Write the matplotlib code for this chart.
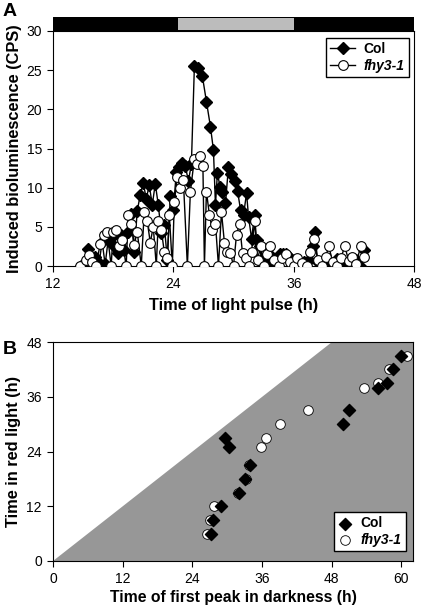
import matplotlib
matplotlib.use("Agg")
import matplotlib.pyplot as plt
from matplotlib.patches import Rectangle, Polygon

plt.rcParams['font.family'] = ['Liberation Sans', 'DejaVu Sans']

# ---------------- Panel A data ----------------
col_t = [14.8, 15.5, 15.8, 16.2, 16.6, 16.9, 17.2, 17.5, 17.8, 18.1, 18.5, 18.8, 19.1, 19.5,
         19.8, 20.1, 20.4, 20.7, 21.0, 21.3, 21.6, 21.9, 22.2, 22.5, 22.8, 23.1, 23.4, 23.7,
         24.0, 24.3, 24.6, 24.9, 25.2, 25.5, 25.8, 26.1, 26.5, 26.9, 27.3, 27.7, 28.0, 28.2,
         28.4, 28.65, 28.9, 29.2, 29.5, 29.8, 30.1, 30.4, 30.7, 31.0, 31.3, 31.5, 31.8, 32.1,
         32.3, 32.6, 32.9, 33.2, 33.5, 33.8, 34.2, 34.6, 34.9, 35.2, 35.5, 35.8, 36.2, 36.6,
         37.0, 37.5, 37.9, 38.1, 38.4, 38.8, 39.3, 39.8, 40.3, 40.8, 41.2, 41.7, 42.2, 42.6, 43.0]
col_v = [0.0, 2.2, 1.0, 1.2, 0.4, 3.1, 0.2, 3.3, 3.6, 2.6, 1.6, 4.0, 2.0, 4.3,
         6.6, 1.8, 7.0, 9.1, 10.6, 8.6, 10.3, 7.8, 10.5, 7.8, 4.2, 5.2, 0.8, 8.9,
         7.2, 12.0, 12.6, 13.1, 12.8, 10.8, 13.0, 25.5, 25.3, 24.2, 21.0, 17.8, 14.8, 7.8,
         11.9, 10.1, 9.4, 8.0, 12.7, 11.8, 10.8, 9.6, 7.2, 6.5, 9.3, 6.3, 3.5, 6.5,
         3.3, 2.5, 0.0, 1.4, 0.6, 1.2, 0.4, 1.5, 1.5, 1.5, 1.2, 0.8, 0.3, 0.0,
         0.5, 0.8, 2.6, 4.4, 0.5, 0.0, 0.6, 0.0, 0.9, 0.5, 0.0, 0.6, 0.8, 0.0, 2.0]

fhy_t = [14.7, 15.3, 15.6, 15.9, 16.3, 16.7, 17.1, 17.4, 17.8, 18.0, 18.3, 18.6, 18.9, 19.3,
         19.5, 19.8, 20.1, 20.4, 20.8, 21.1, 21.4, 21.7, 22.0, 22.3, 22.5, 22.8, 23.1, 23.4,
         23.6, 23.9, 24.1, 24.4, 24.7, 25.0, 25.4, 25.7, 26.1, 26.4, 26.7, 26.95, 27.1, 27.3,
         27.6, 27.9, 28.2, 28.5, 28.8, 29.1, 29.4, 29.7, 30.0, 30.3, 30.6, 30.9, 31.2, 31.5,
         31.8, 32.1, 32.4, 32.7, 33.0, 33.3, 33.6, 34.0, 34.5, 34.8, 35.2, 35.6, 36.0, 36.3,
         36.8, 37.3, 37.6, 38.0, 38.4, 38.8, 39.2, 39.5, 39.9, 40.3, 40.7, 41.1, 41.5, 41.8,
         42.2, 42.7, 43.0]
fhy_v = [0.0, 0.8, 1.4, 0.5, 0.0, 2.8, 3.9, 4.3, 0.0, 4.4, 4.6, 2.5, 3.3, 0.0,
         6.5, 5.4, 2.7, 4.4, 0.0, 6.9, 5.7, 3.0, 5.0, 0.0, 5.7, 4.6, 1.8, 1.0,
         6.5, 0.0, 8.2, 11.3, 10.0, 11.0, 0.0, 9.5, 13.7, 13.0, 14.0, 12.8, 0.0, 9.5,
         6.5, 4.6, 5.4, 0.0, 6.9, 2.9, 1.8, 1.6, 0.0, 4.0, 5.4, 1.6, 1.0, 0.0,
         1.8, 5.7, 0.8, 2.5, 0.0, 1.5, 2.5, 0.8, 0.0, 1.0, 1.5, 0.5, 0.0, 1.0,
         0.4, 0.0, 1.8, 3.5, 0.8, 0.0, 1.2, 2.5, 0.5, 0.0, 1.0, 2.5, 0.6, 1.2,
         0.3, 2.5, 1.2]

# light regime bar (h)
bar_start, bar_end = 12, 48
light_start, light_end = 24.5, 36

# ---------------- Panel B data ----------------
col_peak = [60.0, 58.5, 57.5, 56.0, 51.0, 50.0, 29.7, 30.3, 34.0, 33.0, 32.0, 29.0, 27.6, 27.2]
col_red = [45, 42, 39, 38, 33, 30, 27, 25, 21, 18, 15, 12, 9, 6]
fhy_peak = [61.0, 57.9, 56.0, 53.5, 44.0, 39.1, 36.6, 35.8, 33.7, 33.2, 31.9, 27.8, 27.0, 26.5]
fhy_red = [45, 42, 39, 38, 33, 30, 27, 25, 21, 18, 15, 12, 9, 6]

W, H = 423, 606
fig = plt.figure(figsize=(W / 100, H / 100), dpi=100)


def ax_px(l, t, r, b):
    return fig.add_axes([l / W, 1 - b / H, (r - l) / W, (b - t) / H])


tick_fs = 10
lab_fs = 11.8

# ---- Panel A ----
axA = ax_px(53, 31, 414, 266)
axA.plot(col_t, col_v, color='black', lw=1, marker='D', ms=6.5, mfc='black', mec='black',
         label='Col', zorder=2)
axA.plot(fhy_t, fhy_v, color='black', lw=1, marker='o', ms=7, mfc='white', mec='black',
         mew=0.8, label='fhy3-1', zorder=3)
axA.set_xlim(12, 48)
axA.set_ylim(0, 30)
axA.set_xticks([12, 24, 36, 48])
axA.set_yticks([0, 5, 10, 15, 20, 25, 30])
axA.tick_params(direction='out', length=4.5, labelsize=tick_fs)
axA.set_xlabel('Time of light pulse (h)', fontsize=lab_fs, fontweight='bold', labelpad=5)
axA.set_ylabel('Induced bioluminescence (CPS)', fontsize=lab_fs, fontweight='bold', labelpad=3)
legA = axA.legend(loc='upper right', bbox_to_anchor=(0.985, 0.97), fancybox=False,
                  edgecolor='black', framealpha=1, fontsize=10, handlelength=1.8,
                  borderpad=0.3, labelspacing=0.2, handletextpad=0.6, borderaxespad=0)
legA.get_frame().set_linewidth(1)
for txt in legA.get_texts():
    txt.set_fontweight('bold')
legA.get_texts()[1].set_fontstyle('italic')

# bar above panel A
axBar = ax_px(53, 17, 414, 31)
axBar.set_xlim(bar_start, bar_end)
axBar.set_ylim(0, 1)
axBar.add_patch(Rectangle((bar_start, 0), bar_end - bar_start, 1, facecolor='black',
                          edgecolor='black'))
axBar.add_patch(Rectangle((light_start, 0.08), light_end - light_start, 0.84,
                          facecolor='#bcbcbc', edgecolor='none'))
axBar.axis('off')

# ---- Panel B ----
axB = ax_px(53, 342, 413, 561)
axB.set_xlim(0, 62)
axB.set_ylim(0, 48)
axB.add_patch(Polygon([(0, 0), (62, 0), (62, 48), (48, 48)], closed=True,
                      facecolor='#979797', edgecolor='none', zorder=0))
axB.scatter(fhy_peak, fhy_red, marker='o', s=48, facecolor='white', edgecolor='black',
            linewidth=0.6, label='fhy3-1', zorder=2)
axB.scatter(col_peak, col_red, marker='D', s=38, facecolor='black', edgecolor='black',
            label='Col', zorder=3)
axB.set_xticks([0, 12, 24, 36, 48, 60])
axB.set_yticks([0, 12, 24, 36, 48])
axB.tick_params(direction='out', length=4.5, labelsize=tick_fs)
axB.set_xlabel('Time of first peak in darkness (h)', fontsize=11.3, fontweight='bold',
               labelpad=3)
axB.set_ylabel('Time in red light (h)', fontsize=lab_fs, fontweight='bold', labelpad=4)
h, l = axB.get_legend_handles_labels()
legB = axB.legend([h[1], h[0]], [l[1], l[0]], loc='lower right',
                  bbox_to_anchor=(0.98, 0.045), fancybox=False, edgecolor='black',
                  framealpha=1, fontsize=10, handlelength=1.0, borderpad=0.3,
                  labelspacing=0.2, handletextpad=0.6, borderaxespad=0)
legB.get_frame().set_linewidth(1)
for txt in legB.get_texts():
    txt.set_fontweight('bold')
legB.get_texts()[1].set_fontstyle('italic')

fig.text(3 / W, 1 - 12 / H, 'A', fontsize=14, fontweight='bold', va='center', ha='left')
fig.text(3 / W, 1 - 349 / H, 'B', fontsize=14, fontweight='bold', va='center', ha='left')

fig.savefig('out.png', dpi=100)
